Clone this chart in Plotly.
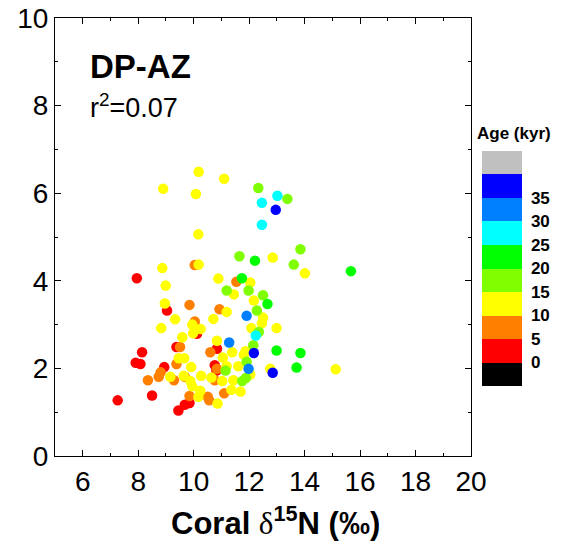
import plotly.graph_objects as go

# Data: (coral d15N, y value), grouped by age colour bin
red_x = [7.26, 7.95, 7.91, 8.08, 8.14, 8.50, 8.94, 9.04, 9.38, 9.45, 9.68, 9.85, 10.12, 10.84, 10.76, 10.82]
red_y = [1.27, 4.06, 2.13, 2.10, 2.37, 1.38, 2.03, 3.32, 2.49, 1.04, 1.17, 1.21, 2.79, 2.45, 2.07, 1.95]

orange_x = [8.35, 8.74, 8.81, 9.29, 9.38, 9.51, 9.85, 10.04, 10.04, 9.85, 10.51, 10.56, 10.60, 10.93, 10.84, 10.76, 11.10, 11.54, 9.68]
orange_y = [1.73, 1.81, 1.91, 1.73, 2.10, 2.49, 3.45, 4.36, 3.07, 1.37, 1.35, 1.27, 2.37, 3.35, 1.99, 1.73, 1.43, 3.98, 1.81]

yellow_x = [8.90, 10.18, 11.10, 10.08, 10.17, 10.18, 8.87, 8.99, 8.96, 8.83, 9.33, 9.95, 10.25, 9.98, 9.59,
            9.46, 9.66, 9.91, 9.16, 9.64, 9.88, 9.95, 10.27, 10.24, 10.17, 10.86, 10.64, 11.03, 10.89, 10.71,
            10.84, 11.05, 11.19, 11.19, 11.39, 11.43, 11.36, 11.45, 11.61, 11.69, 11.81, 11.87, 12.04, 12.17,
            12.08, 12.04, 12.50, 12.46, 12.85, 12.76, 12.99, 14.01, 15.12]
yellow_y = [6.10, 6.49, 6.33, 5.98, 5.06, 4.37, 4.29, 3.89, 3.48, 2.92, 3.12, 3.00, 2.90, 2.80, 2.71,
            2.23, 2.23, 2.03, 1.81, 1.83, 1.71, 1.59, 1.83, 1.49, 1.35, 1.20, 1.79, 1.71, 4.05, 3.13,
            2.63, 2.25, 2.05, 3.29, 2.37, 1.73, 1.51, 3.69, 2.05, 1.47, 2.31, 2.39, 3.96, 3.55,
            2.92, 1.86, 3.16, 3.03, 4.53, 1.99, 2.92, 4.17, 1.98]

chart_x = [12.33, 13.38, 13.85, 13.61, 11.65, 11.19, 11.98, 12.50, 12.28, 12.35, 12.15, 11.91, 11.15, 11.75, 11.88]
chart_y = [6.12, 5.87, 4.72, 4.37, 4.56, 3.78, 3.78, 3.67, 3.32, 2.83, 2.53, 2.15, 1.95, 1.71, 1.78]

green_x = [12.21, 11.74, 12.66, 12.99, 13.85, 13.71, 15.67]
green_y = [4.46, 4.06, 3.47, 2.41, 2.35, 2.02, 4.22]

cyan_x = [13.02, 12.46, 12.46, 12.24]
cyan_y = [5.94, 5.78, 5.28, 2.75]

azure_x = [11.91, 11.28, 11.98]
azure_y = [3.20, 2.59, 1.99]

blue_x = [12.96, 12.17, 12.85]
blue_y = [5.62, 2.35, 1.90]

groups = [
    (red_x, red_y, 2.5),
    (orange_x, orange_y, 7.5),
    (yellow_x, yellow_y, 12.5),
    (chart_x, chart_y, 17.5),
    (green_x, green_y, 22.5),
    (cyan_x, cyan_y, 27.5),
    (azure_x, azure_y, 32.5),
    (blue_x, blue_y, 37.5),
]

xs, ys, ages = [], [], []
for gx, gy, a in groups:
    xs += gx
    ys += gy
    ages += [a] * len(gx)

age_ticks = [0, 5, 10, 15, 20, 25, 30, 35]
bin_colors = ["#000000", "#ff0000", "#ff8000", "#ffff00", "#80ff00",
              "#00ff00", "#00ffff", "#0080ff", "#0000ff", "#c0c0c0"]
colorscale = []
n = len(bin_colors)
for i, c in enumerate(bin_colors):
    colorscale.append([i / n, c])
    colorscale.append([(i + 1) / n, c])

x_tick_vals = [6, 8, 10, 12, 14, 16, 18, 20]
y_tick_vals = [0, 2, 4, 6, 8, 10]

FONT = "Liberation Sans, Arial, sans-serif"

fig = go.Figure()
fig.add_trace(go.Scatter(
    x=xs, y=ys, mode="markers",
    marker=dict(
        size=10.5, color=ages, colorscale=colorscale, cmin=-5, cmax=45,
        line=dict(width=0),
        showscale=True,
        colorbar=dict(
            x=1.026, xanchor="left", xpad=0,
            y=0.697, yanchor="top", ypad=0,
            len=235, lenmode="pixels",
            thickness=40, thicknessmode="pixels",
            outlinewidth=0,
            tickvals=age_ticks, ticktext=[str(t) for t in age_ticks],
            ticks="outside", ticklen=6, tickcolor="rgba(0,0,0,0)",
            tickfont=dict(family=FONT, size=17, color="black", weight="bold"),
        ),
    ),
    showlegend=False,
    hoverinfo="skip",
))

axis_common = dict(
    showgrid=False, zeroline=False, showline=True, linecolor="black", linewidth=1,
    mirror="allticks", ticks="inside", ticklen=6, tickwidth=1, tickcolor="black",
    tickfont=dict(family=FONT, size=28, color="black"), automargin=False,
)

fig.update_xaxes(range=[5, 20], tickvals=x_tick_vals,
                 minor=dict(dtick=1, ticks="inside", ticklen=3),
                 **axis_common)
fig.update_yaxes(range=[0, 10], tickvals=y_tick_vals,
                 minor=dict(dtick=1, ticks="inside", ticklen=3),
                 **axis_common)

fig.add_annotation(x=6.2, y=8.9, xref="x", yref="y", text="<b>DP-AZ</b>", showarrow=False,
                   xanchor="left", yanchor="middle", font=dict(family=FONT, size=33, color="black"))
fig.add_annotation(x=6.2, y=8.0, xref="x", yref="y", text="r<sup>2</sup>=0.07", showarrow=False,
                   xanchor="left", yanchor="middle", font=dict(family=FONT, size=27, color="black"))
fig.add_annotation(x=(275 - 55) / 416, y=-(521 - 456) / 438, xref="paper", yref="paper",
                   text="<b>Coral </b><span style='font-family:Liberation Serif;font-weight:normal'>δ</span><b><sup>15</sup>N (‰)</b>",
                   showarrow=False, xanchor="center", yanchor="middle",
                   font=dict(family=FONT, size=31, color="black"))
fig.add_annotation(x=(475 - 55) / 416, y=(456 - 133) / 438, xref="paper", yref="paper",
                   text="<b>Age (kyr)</b>", showarrow=False, xanchor="left", yanchor="middle",
                   font=dict(family=FONT, size=17, color="black"))

fig.update_layout(
    width=569, height=546,
    margin=dict(l=55, r=98, t=18, b=90, pad=0, autoexpand=False),
    paper_bgcolor="white", plot_bgcolor="white",
)

fig.write_html("out.html", config={"displayModeBar": False},
               post_script="document.body.style.margin='0';document.body.style.overflow='hidden';")
